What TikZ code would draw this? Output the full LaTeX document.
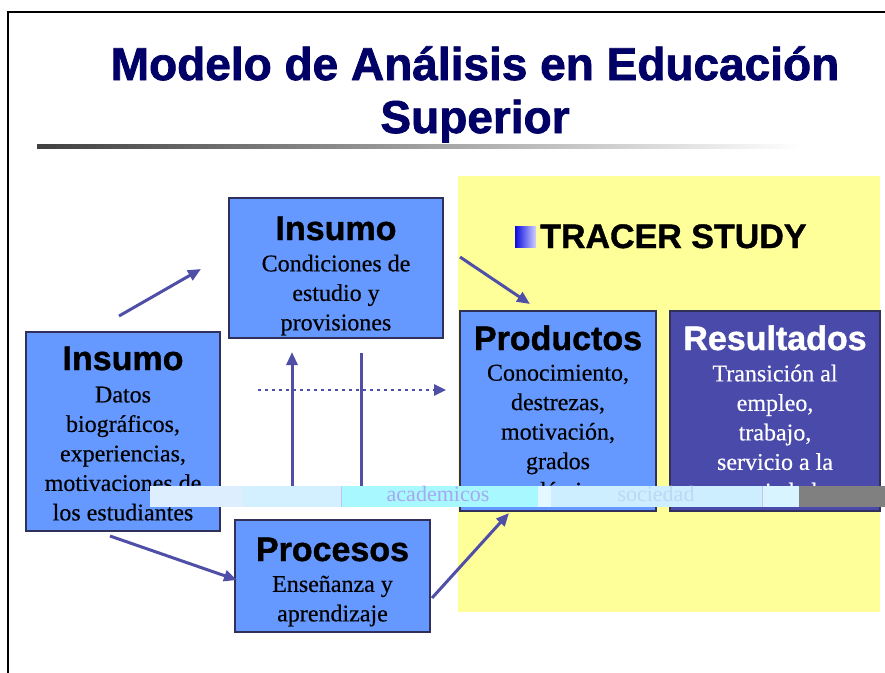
\documentclass[tikz,border=0pt]{standalone}
\usepackage{fontspec}
\setmainfont{Liberation Serif}
\setsansfont{Liberation Sans}
\newfontfamily\ttlfont{Liberation Sans Bold}[FakeBold=1.6]
\newfontfamily\hdfont{Liberation Sans Bold}[FakeBold=1.2]
\newfontfamily\bodyfont{Liberation Serif}[FakeBold=0.4]
\usetikzlibrary{arrows.meta}
\definecolor{navy}{HTML}{000066}
\definecolor{boxblue}{HTML}{6699FF}
\definecolor{resblue}{HTML}{4A4AAA}
\definecolor{boxline}{HTML}{30305A}
\definecolor{arrowc}{HTML}{4F4FA8}
\definecolor{panel}{HTML}{FFFF99}
\definecolor{bandA}{HTML}{DDEEFF}
\definecolor{bandB}{HTML}{D2F0FF}
\definecolor{bandC}{HTML}{A8F8FF}
\definecolor{bandD}{HTML}{E4F8FF}
\definecolor{bandE}{HTML}{CCEEFF}
\definecolor{bandF}{HTML}{D8F4FF}
\definecolor{bandtxt}{HTML}{A8A8F0}
\definecolor{bandtxtb}{HTML}{BCD8F4}
\begin{document}
\begin{tikzpicture}[x=1pt,y=-1pt,
  box/.style={draw=boxline, line width=1.2pt, fill=boxblue, inner sep=0pt},
  hd/.style={font=\hdfont\fontsize{34}{38}\selectfont, inner sep=0pt, anchor=base},
  body/.style={font=\bodyfont\fontsize{24}{29.5}\selectfont, align=center, inner sep=0pt, anchor=north},
  arr/.style={draw=arrowc, line width=3pt, -{Triangle[length=13pt,width=11pt]}},
  plain/.style={draw=arrowc, line width=3pt}]
\useasboundingbox (0,0) rectangle (885,672);
\fill[white] (0,0) rectangle (885,672);
% frame
\draw[line width=2.5pt, line cap=rect] (8,672) -- (8,12) -- (885,12);
% title
\node[inner sep=0pt, anchor=base, text=navy, font=\ttlfont\fontsize{46}{50}\selectfont] (t1) at (475,80) {Modelo de Análisis en Educación};
\node[inner sep=0pt, anchor=base, text=navy, font=\ttlfont\fontsize{46}{50}\selectfont] (t2) at (475,133) {Superior};
\shade[left color=black!75, right color=white] (37,144.5) rectangle (800,148.5);
% yellow panel
\fill[panel] (458,176) rectangle (880,612);
\shade[left color={rgb,255:red,10;green,10;blue,225}, right color={rgb,255:red,210;green,210;blue,255}] (515,226) rectangle (536,247);
\node[inner sep=0pt, anchor=base west, font=\hdfont\fontsize{34}{38}\selectfont] (tracer) at (540,248) {TRACER STUDY};
% boxes
\node[box, minimum width=214pt, minimum height=140pt] (ins2) at (336,268) {};
\node[hd] (ins2h) at (336,240) {Insumo};
\node[body] (ins2b) at (336,254.5) {Condiciones de\\estudio y\\provisiones};

\node[box, minimum width=194pt, minimum height=199pt] (ins1) at (123,431.5) {};
\node[hd] (ins1h) at (123,370) {Insumo};
\node[body] (ins1b) at (123,386.5) {Datos\\biográficos,\\experiencias,\\motivaciones de\\los estudiantes};

\node[box, minimum width=195pt, minimum height=112pt] (proc) at (332.5,576) {};
\node[hd] (proch) at (332.5,561) {Procesos};
\node[body] (procb) at (332.5,575.5) {Enseñanza y\\aprendizaje};

\node[box, minimum width=196pt, minimum height=200pt] (prod) at (558,411) {};
\node[hd] (prodh) at (558,350) {Productos};
\node[body] (prodb) at (558,364.5) {Conocimiento,\\destrezas,\\motivación,\\grados\\académicos};

\node[box, fill=resblue, minimum width=210pt, minimum height=200pt] (res) at (775,411) {};
\node[hd, text=white] (resh) at (775,350) {Resultados};
\node[body, text=white] (resb) at (775,364.5) {Transición al\\empleo,\\trabajo,\\servicio a la\\sociedad};
% arrows
\coordinate (a1s) at (119,316); \coordinate (a1e) at (201,269);
\coordinate (a2s) at (460,257); \coordinate (a2e) at (530,304);
\coordinate (a3s) at (110,536); \coordinate (a3e) at (237,580);
\coordinate (a4s) at (432,598); \coordinate (a4e) at (509,513);
\coordinate (v1s) at (292,507); \coordinate (v1e) at (292,352);
\coordinate (v2s) at (361,353); \coordinate (v2e) at (361,507);
\coordinate (ds) at (258,390); \coordinate (de) at (446,390);
\draw[arr] (a1s) -- (a1e);
\draw[arr] (a2s) -- (a2e);
\draw[arr] (a3s) -- (a3e);
\draw[arr] (a4s) -- (a4e);
\draw[arr] (v1s) -- (v1e);
\draw[plain] (v2s) -- (v2e);
\draw[draw=arrowc, line width=2.5pt, dash pattern=on 2.5pt off 4.5pt, -{Triangle[length=12pt,width=11pt]}] (ds) -- (de);
% glitch band
\fill[bandA] (150,486) rectangle (243,507);
\fill[bandB] (243,486) rectangle (341,507);
\fill[bandC] (341,486) rectangle (538,507);
\fill[bandD] (538,486) rectangle (551,507);
\fill[bandE] (551,486) rectangle (762,507);
\fill[bandF] (762,486) rectangle (799,507);
\fill[black!50] (799,486) rectangle (885,507);
\draw[bandtxt!70, line width=0.8pt] (341,486) -- (341,507) (762,486) -- (762,507);
\node[inner sep=0pt, text=bandtxt, font=\fontsize{22}{24}\selectfont] (bt1) at (438,494) {academicos};
\node[inner sep=0pt, text=bandtxtb, font=\fontsize{22}{24}\selectfont] (bt2) at (656,494) {sociedad};
\end{tikzpicture}
\end{document}
